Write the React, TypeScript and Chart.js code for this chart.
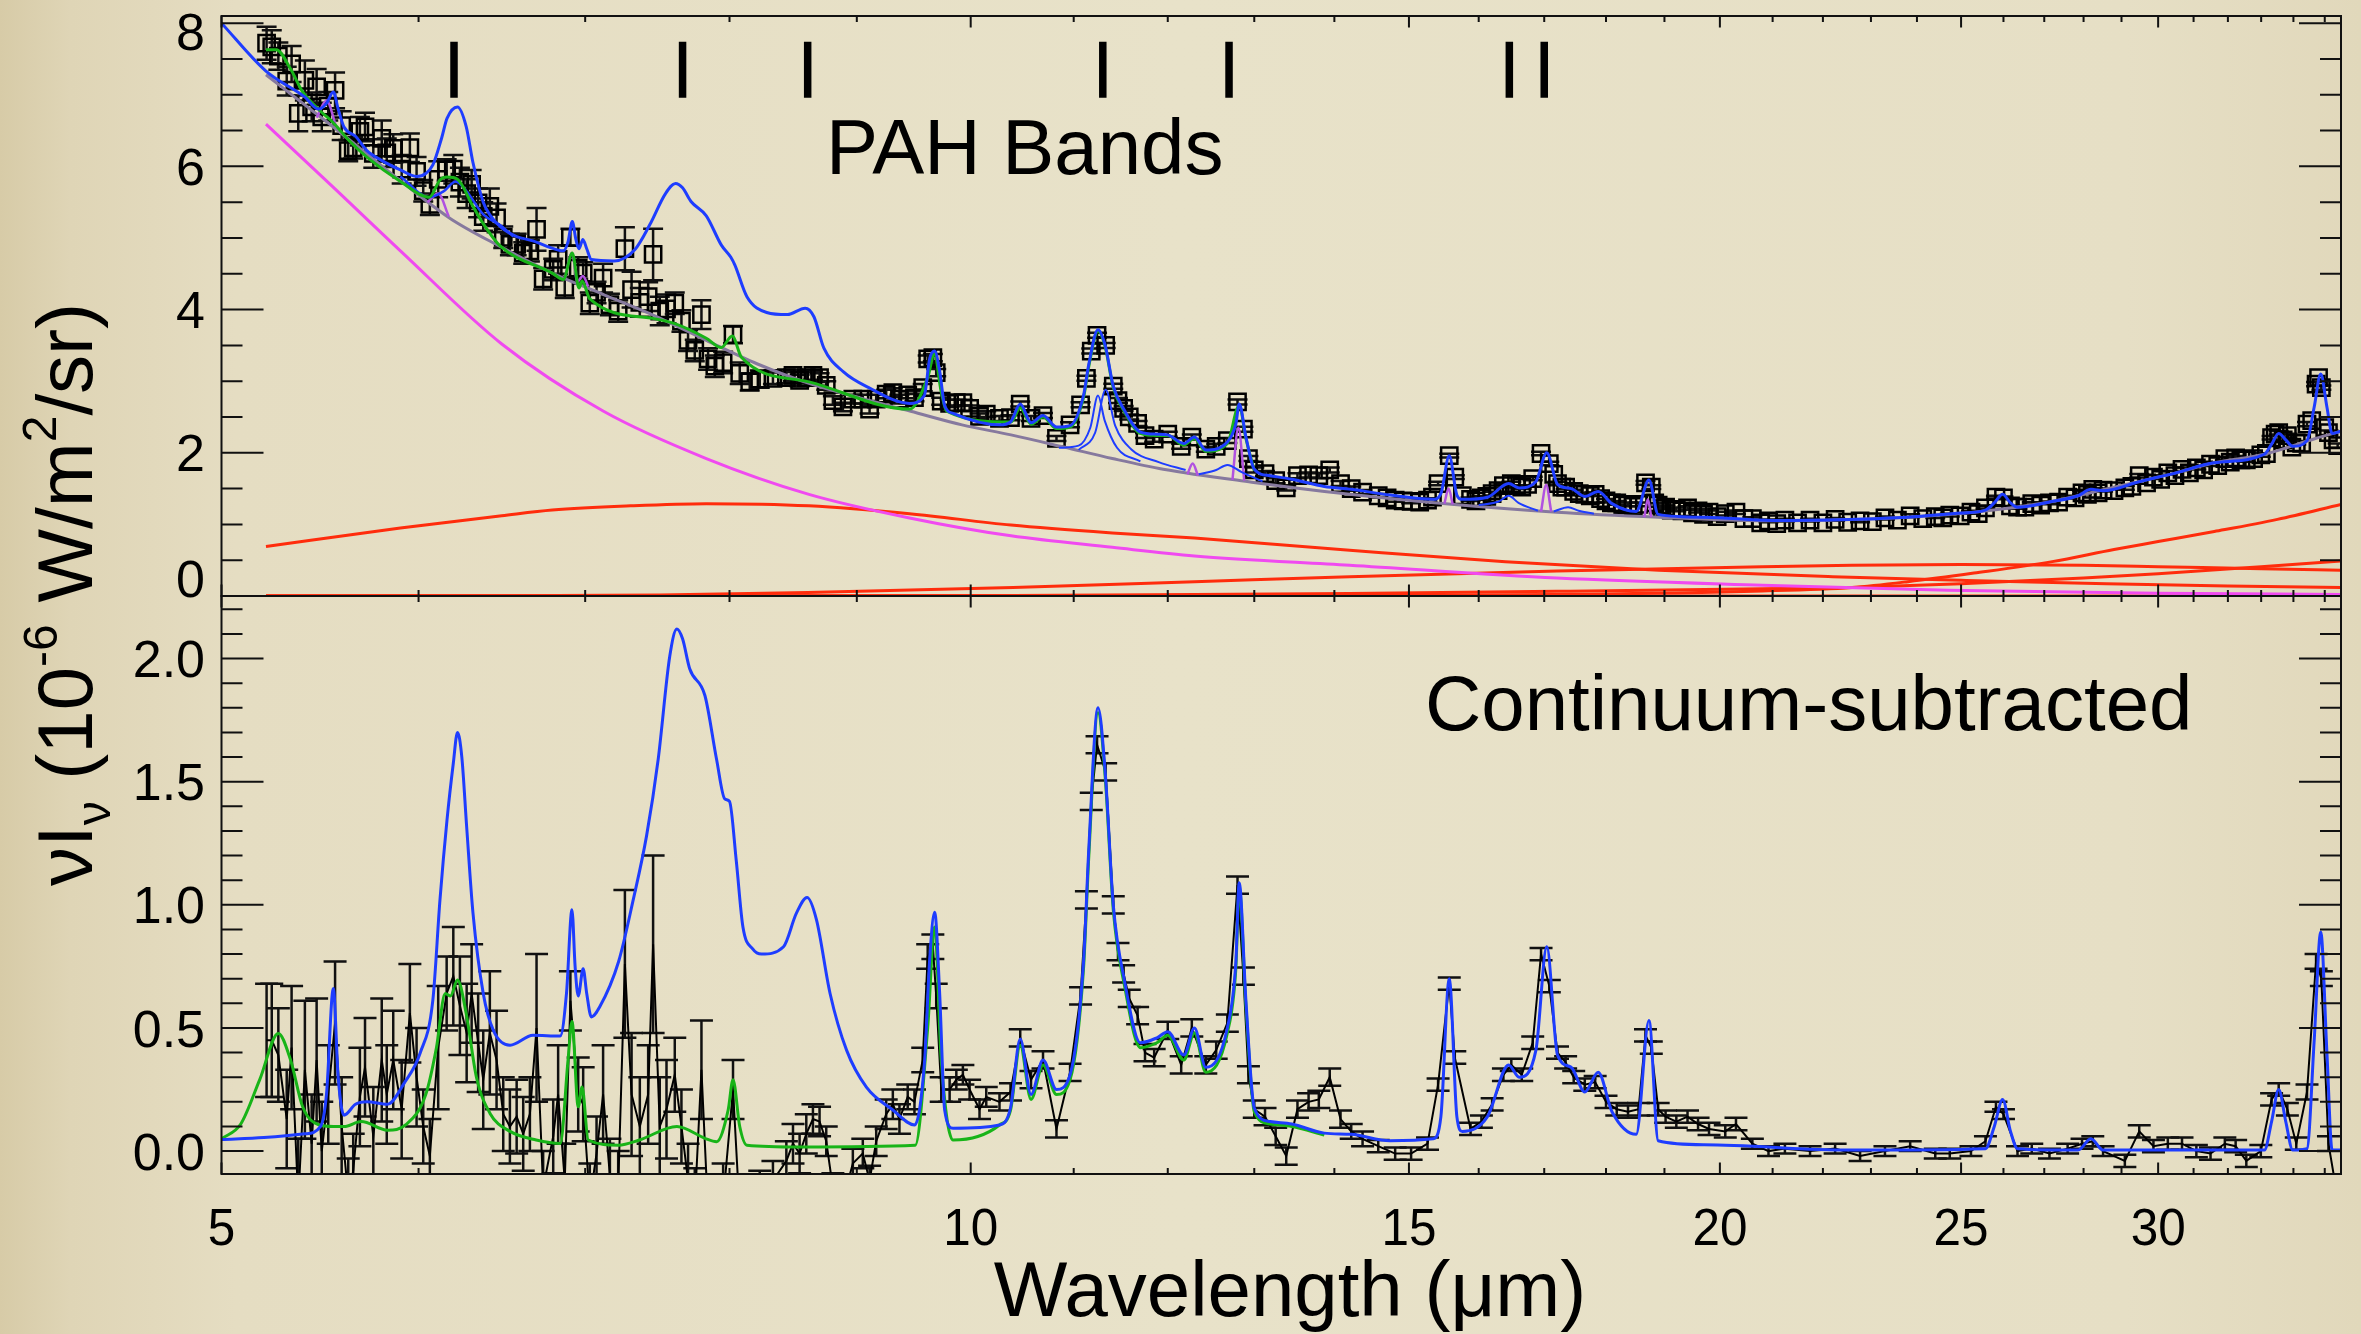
import { useEffect, useRef } from "react";
import { Chart, registerables } from "chart.js";

Chart.register(...registerables);

const W = 2361;
const H = 1334;
const FONT = '"Liberation Sans", Arial, Helvetica, sans-serif';
const INK = "#111111";

// panel geometry (px)
const PLOT_LEFT = 221.5;
const PLOT_RIGHT = 2341;
const TOP_PANEL_TOP = 16;
const PANEL_SPLIT = 596;
const BOTTOM_PANEL_BOTTOM = 1174;

const WAVE_MIN = 5;
const WAVE_MAX = 35.53;
const TOTAL_MIN = 0;
const TOTAL_MAX = 8.1;
const SUB_MIN = -0.093;
const SUB_MAX = 2.254;

// axis ticks
const X_MAJOR_TICKS = [5, 10, 15, 20, 25, 30];
const X_TICK_LABELS = ["5", "10", "15", "20", "25", "30"];
const X_MINOR_TICKS = [6, 7, 8, 9, 11, 12, 13, 14, 16, 17, 18, 19, 21, 22, 23, 24, 26, 27, 28, 29, 31, 32, 33, 34, 35];
const TOTAL_MAJOR_TICKS = [0, 2, 4, 6, 8];
const TOTAL_TICK_LABELS = ["0", "2", "4", "6", "8"];
const TOTAL_LABEL_SHIFT = [-18, 0, 0, 0, 8];
const SUB_MAJOR_TICKS = [0, 0.5, 1, 1.5, 2];
const SUB_TICK_LABELS = ["0.0", "0.5", "1.0", "1.5", "2.0"];
const SUB_LABEL_SHIFT = [0, 0, 0, 0, 0];

// PAH band markers (micron)
const PAH_BANDS = [6.2, 7.66, 8.6, 11.3, 12.7, 16.46, 17.0];
const BAND_MARK_LOW = 6.96;
const BAND_MARK_HIGH = 7.74;

// measured spectrum
const WAVE = [
  5.213, 5.238, 5.27, 5.311, 5.335, 5.368, 5.401, 5.435, 5.46, 5.486,
  5.519, 5.554, 5.588, 5.622, 5.648, 5.683, 5.71, 5.754, 5.799, 5.826,
  5.861, 5.907, 5.952, 5.989, 6.026, 6.063, 6.11, 6.158, 6.196, 6.234,
  6.273, 6.302, 6.34, 6.37, 6.409, 6.449, 6.489, 6.529, 6.57, 6.61,
  6.651, 6.692, 6.733, 6.796, 6.827, 6.869, 6.905, 6.955, 6.987, 7.03,
  7.074, 7.117, 7.162, 7.217, 7.262, 7.307, 7.363, 7.42, 7.454, 7.5,
  7.547, 7.605, 7.652, 7.699, 7.747, 7.795, 7.843, 7.892, 7.953, 8.026,
  8.076, 8.151, 8.227, 8.328, 8.432, 8.484, 8.536, 8.589, 8.642, 8.695,
  8.749, 8.803, 8.885, 8.967, 9.05, 9.107, 9.163, 9.248, 9.305, 9.362,
  9.434, 9.493, 9.566, 9.61, 9.656, 9.686, 9.731, 9.807, 9.868, 9.928,
  9.99, 10.082, 10.145, 10.27, 10.375, 10.469, 10.574, 10.692, 10.826, 10.963,
  11.07, 11.13, 11.18, 11.24, 11.33, 11.41, 11.46, 11.52, 11.58, 11.67,
  11.75, 11.85, 12.0, 12.15, 12.27, 12.43, 12.55, 12.68, 12.8, 12.87,
  12.93, 13.0, 13.13, 13.26, 13.39, 13.53, 13.67, 13.8, 13.94, 14.08,
  14.22, 14.37, 14.58, 14.81, 15.03, 15.26, 15.41, 15.57, 15.65, 15.88,
  16.04, 16.2, 16.37, 16.49, 16.65, 16.82, 16.95, 17.08, 17.21, 17.34,
  17.47, 17.65, 17.82, 18.0, 18.18, 18.37, 18.55, 18.67, 18.77, 18.89,
  19.02, 19.21, 19.41, 19.6, 19.8, 20.1, 20.3, 20.61, 20.92, 21.24,
  21.74, 22.25, 22.77, 23.3, 23.85, 24.41, 24.74, 25.23, 25.57, 25.82,
  26.0, 26.34, 26.69, 27.13, 27.59, 27.96, 28.24, 28.51, 29.09, 29.48,
  29.87, 30.27, 30.67, 31.08, 31.49, 31.91, 32.23, 32.55, 32.99, 33.32,
  33.54, 33.81, 34.09, 34.43, 34.72, 34.89, 35.12, 35.42,
];

const FLUX_TOTAL = [
  7.72, 7.67, 7.54, 7.19, 7.43, 6.74, 7.2, 6.83, 7.11, 6.69,
  6.84, 7.06, 6.57, 6.22, 6.26, 6.49, 6.55, 6.18, 6.39, 6.19,
  6.25, 5.96, 6.26, 5.93, 5.66, 5.47, 5.82, 5.95, 5.96, 5.78,
  5.62, 5.75, 5.49, 5.3, 5.44, 5.28, 5.01, 4.91, 4.91, 4.79,
  4.82, 5.12, 4.43, 4.56, 4.7, 4.31, 5.01, 4.58, 4.51, 4.09,
  4.24, 4.44, 4.07, 3.98, 4.85, 4.28, 4.1, 4.18, 4.77, 3.98,
  4.01, 4.09, 3.84, 3.57, 3.43, 3.93, 3.31, 3.21, 3.26, 3.65,
  3.11, 2.99, 3.03, 3.04, 3.05, 3.08, 3.01, 3.05, 3.08, 3.05,
  2.94, 2.73, 2.64, 2.75, 2.75, 2.61, 2.75, 2.82, 2.84, 2.75,
  2.81, 2.77, 2.91, 3.31, 3.33, 3.12, 2.72, 2.69, 2.7, 2.7,
  2.62, 2.51, 2.54, 2.48, 2.49, 2.68, 2.48, 2.52, 2.2, 2.39,
  2.67, 3.04, 3.42, 3.64, 3.5, 2.93, 2.73, 2.62, 2.5, 2.41,
  2.24, 2.19, 2.26, 2.09, 2.22, 2.05, 2.09, 2.17, 2.71, 2.33,
  1.92, 1.76, 1.71, 1.61, 1.51, 1.68, 1.69, 1.68, 1.76, 1.57,
  1.5, 1.45, 1.4, 1.34, 1.32, 1.34, 1.57, 1.96, 1.66, 1.35,
  1.37, 1.43, 1.54, 1.57, 1.52, 1.64, 1.99, 1.85, 1.57, 1.52,
  1.46, 1.42, 1.42, 1.33, 1.3, 1.28, 1.28, 1.58, 1.52, 1.27,
  1.24, 1.21, 1.23, 1.19, 1.17, 1.15, 1.17, 1.08, 1.05, 1.06,
  1.06, 1.07, 1.05, 1.09, 1.12, 1.11, 1.13, 1.17, 1.23, 1.38,
  1.37, 1.24, 1.29, 1.3, 1.38, 1.44, 1.49, 1.48, 1.51, 1.68,
  1.66, 1.72, 1.77, 1.79, 1.84, 1.92, 1.93, 1.9, 1.97, 2.21,
  2.28, 2.24, 2.14, 2.4, 2.96, 2.91, 2.28, 2.1,
];

const FLUX_SUB = [
  0.45, 0.45, 0.39, 0.13, 0.42, -0.2, 0.33, 0.03, 0.37, 0.0,
  0.23, 0.52, 0.1, -0.18, -0.08, 0.22, 0.34, 0.06, 0.37, 0.23,
  0.37, 0.17, 0.56, 0.3, 0.1, -0.02, 0.42, 0.64, 0.71, 0.59,
  0.48, 0.64, 0.44, 0.29, 0.48, 0.37, 0.15, 0.1, 0.14, 0.07,
  0.15, 0.5, -0.15, 0.06, 0.23, -0.12, 0.61, 0.23, 0.19, -0.2,
  -0.01, 0.23, -0.1, -0.15, 0.76, 0.23, 0.1, 0.23, 0.84, 0.1,
  0.17, 0.31, 0.1, -0.12, -0.22, 0.33, -0.25, -0.3, -0.2, 0.25,
  -0.25, -0.3, -0.2, -0.12, -0.04, 0.03, -0.01, 0.07, 0.13, 0.12,
  0.04, -0.15, -0.2, -0.05, -0.01, -0.12, 0.04, 0.15, 0.19, 0.13,
  0.22, 0.2, 0.37, 0.79, 0.83, 0.63, 0.25, 0.25, 0.29, 0.31,
  0.25, 0.17, 0.22, 0.2, 0.24, 0.46, 0.29, 0.37, 0.09, 0.32,
  0.63, 1.02, 1.42, 1.65, 1.54, 1.0, 0.81, 0.72, 0.62, 0.55,
  0.4, 0.38, 0.49, 0.35, 0.5, 0.35, 0.41, 0.52, 1.08, 0.71,
  0.31, 0.17, 0.14, 0.06, -0.02, 0.17, 0.2, 0.21, 0.3, 0.13,
  0.08, 0.05, 0.02, -0.01, -0.01, 0.03, 0.27, 0.68, 0.38, 0.09,
  0.12, 0.19, 0.31, 0.35, 0.31, 0.44, 0.8, 0.67, 0.4, 0.36,
  0.3, 0.27, 0.28, 0.2, 0.17, 0.16, 0.17, 0.47, 0.42, 0.17,
  0.14, 0.12, 0.14, 0.11, 0.09, 0.08, 0.11, 0.03, 0.0, 0.01,
  0.0, 0.01, -0.02, 0.0, 0.02, -0.01, -0.01, 0.0, 0.04, 0.18,
  0.15, 0.0, 0.01, -0.01, 0.01, 0.03, 0.04, 0.0, -0.04, 0.08,
  0.02, 0.03, 0.03, 0.0, -0.01, 0.03, 0.02, -0.04, 0.0, 0.21,
  0.25, 0.17, 0.03, 0.24, 0.77, 0.7, 0.03, -0.19,
];

const FLUX_ERR = [
  0.23, 0.23, 0.19, 0.2, 0.25, 0.25, 0.28, 0.2, 0.25, 0.2,
  0.2, 0.25, 0.2, 0.15, 0.15, 0.2, 0.2, 0.2, 0.25, 0.2,
  0.2, 0.2, 0.2, 0.2, 0.15, 0.15, 0.25, 0.15, 0.2, 0.2,
  0.2, 0.2, 0.2, 0.2, 0.25, 0.2, 0.15, 0.15, 0.15, 0.15,
  0.15, 0.3, 0.15, 0.15, 0.2, 0.15, 0.12, 0.15, 0.15, 0.15,
  0.15, 0.2, 0.15, 0.15, 0.3, 0.25, 0.2, 0.2, 0.36, 0.2,
  0.2, 0.15, 0.15, 0.15, 0.15, 0.2, 0.15, 0.15, 0.15, 0.12,
  0.15, 0.12, 0.12, 0.08, 0.08, 0.08, 0.08, 0.08, 0.06, 0.06,
  0.06, 0.06, 0.06, 0.06, 0.06, 0.06, 0.06, 0.06, 0.06, 0.06,
  0.05, 0.05, 0.05, 0.05, 0.05, 0.05, 0.05, 0.05, 0.04, 0.04,
  0.04, 0.04, 0.04, 0.035, 0.035, 0.035, 0.035, 0.035, 0.035, 0.035,
  0.035, 0.035, 0.035, 0.035, 0.035, 0.035, 0.035, 0.035, 0.035, 0.035,
  0.035, 0.035, 0.035, 0.035, 0.035, 0.035, 0.035, 0.035, 0.035, 0.035,
  0.035, 0.035, 0.035, 0.035, 0.035, 0.035, 0.035, 0.035, 0.035, 0.035,
  0.03, 0.03, 0.025, 0.025, 0.025, 0.025, 0.025, 0.025, 0.025, 0.025,
  0.025, 0.025, 0.025, 0.025, 0.025, 0.025, 0.025, 0.025, 0.025, 0.025,
  0.025, 0.025, 0.025, 0.025, 0.025, 0.025, 0.025, 0.025, 0.025, 0.025,
  0.025, 0.025, 0.025, 0.025, 0.025, 0.025, 0.025, 0.02, 0.02, 0.02,
  0.02, 0.02, 0.02, 0.02, 0.02, 0.02, 0.02, 0.02, 0.02, 0.02,
  0.02, 0.02, 0.02, 0.02, 0.02, 0.02, 0.02, 0.02, 0.025, 0.025,
  0.025, 0.025, 0.025, 0.025, 0.025, 0.025, 0.025, 0.025, 0.025, 0.025,
  0.025, 0.025, 0.025, 0.03, 0.03, 0.03, 0.03, 0.03,
];

// second pass of the long-wavelength module (upper panel only)
const LL2_WAVE = [
  14.7, 14.92, 15.15, 15.33, 15.76, 15.96, 16.12, 16.29, 16.57, 16.74,
  17.15, 17.28, 17.56, 17.74, 17.91, 18.09, 18.28, 18.46, 18.83, 18.96,
  19.12, 19.31, 19.5, 19.7, 19.95, 20.45, 20.77, 21.08, 21.49, 22.0,
  22.51, 23.03, 23.57, 24.13, 24.58, 24.98, 25.4, 26.17, 26.52, 26.91,
  27.36, 27.78, 28.1, 28.38, 28.8, 29.28, 29.68, 30.07, 30.47, 30.88,
  31.29, 31.7, 32.07, 32.39, 32.77, 33.16, 33.43, 33.68, 33.95, 34.26,
  34.58, 34.8, 35.0, 35.27,
];
const LL2_FLUX = [
  1.37, 1.33, 1.31, 1.38, 1.4, 1.33, 1.39, 1.47, 1.55, 1.56,
  1.7, 1.52, 1.43, 1.4, 1.36, 1.3, 1.27, 1.25, 1.3, 1.22,
  1.2, 1.19, 1.16, 1.14, 1.11, 1.08, 1.02, 1.01, 1.02, 1.02,
  1.03, 1.04, 1.06, 1.08, 1.09, 1.12, 1.15, 1.26, 1.24, 1.27,
  1.31, 1.37, 1.42, 1.44, 1.47, 1.53, 1.58, 1.63, 1.68, 1.72,
  1.76, 1.82, 1.87, 1.9, 1.92, 1.99, 2.26, 2.18, 2.08, 2.13,
  2.45, 3.05, 2.35, 2.18,
];

// full model (continuum + features), upper panel
const MODEL_WAVE = [
  5.0, 5.21, 5.4, 5.47, 5.51, 5.545, 5.57, 5.6, 5.66, 5.72,
  5.8, 5.9, 5.99, 6.04, 6.08, 6.13, 6.16, 6.22, 6.27, 6.31,
  6.37, 6.41, 6.48, 6.57, 6.67, 6.76, 6.86, 6.89, 6.917, 6.94,
  6.96, 6.985, 7.01, 7.04, 7.19, 7.33, 7.43, 7.54, 7.61, 7.66,
  7.72, 7.83, 7.94, 8.01, 8.04, 8.13, 8.28, 8.44, 8.58, 8.65,
  8.73, 8.89, 9.1, 9.45, 9.58, 9.627, 9.672, 9.717, 9.762, 9.838,
  10.27, 10.375, 10.469, 10.574, 10.692, 10.826, 10.963, 11.1, 11.155, 11.25,
  11.325, 11.41, 11.53, 11.7, 11.88, 12.0, 12.18, 12.3, 12.43, 12.68,
  12.78, 12.82, 12.9, 13.0, 13.19, 13.46, 13.87, 14.22, 14.74, 15.34,
  15.45, 15.57, 15.68, 15.76, 16.13, 16.45, 16.61, 16.87, 17.04, 17.21,
  17.43, 17.65, 17.87, 18.1, 18.51, 18.73, 18.89, 19.71, 21.0, 22.54,
  23.8, 25.0, 25.57, 25.78, 25.98, 26.17, 26.34, 27.1, 27.86, 28.19,
  28.51, 29.5, 30.5, 31.6, 33.1, 33.32, 33.54, 33.76, 33.98, 34.43,
  34.66, 34.87, 35.07, 35.24, 35.53,
];
const MODEL_FLUX = [
  8.0, 7.33, 6.97, 6.8, 6.88, 7.04, 6.8, 6.55, 6.42, 6.22,
  6.08, 5.95, 5.86, 5.9, 6.02, 6.4, 6.67, 6.83, 6.56, 6.05,
  5.5, 5.32, 5.14, 5.02, 4.96, 4.88, 4.82, 4.95, 5.23, 4.98,
  4.85, 4.98, 4.85, 4.7, 4.68, 4.84, 5.18, 5.62, 5.76, 5.7,
  5.51, 5.31, 4.9, 4.73, 4.62, 4.18, 3.96, 3.93, 4.02, 3.9,
  3.46, 3.13, 2.91, 2.69, 2.8, 3.31, 3.42, 3.14, 2.66, 2.55,
  2.39, 2.43, 2.68, 2.42, 2.52, 2.36, 2.38, 2.8, 3.24, 3.72,
  3.5, 2.93, 2.59, 2.29, 2.26, 2.25, 2.13, 2.22, 2.04, 2.15,
  2.4, 2.68, 2.22, 1.77, 1.68, 1.63, 1.53, 1.49, 1.41, 1.35,
  1.43, 1.96, 1.41, 1.35, 1.38, 1.57, 1.51, 1.6, 2.0, 1.56,
  1.5, 1.39, 1.46, 1.29, 1.18, 1.62, 1.14, 1.1, 1.055, 1.07,
  1.1, 1.16, 1.2, 1.3, 1.42, 1.3, 1.24, 1.31, 1.4, 1.49,
  1.47, 1.6, 1.72, 1.86, 1.98, 2.12, 2.27, 2.18, 2.09, 2.17,
  2.64, 3.1, 2.64, 2.27, 2.3,
];

// second model, upper panel
const GREEN_WAVE = [
  5.21, 5.26, 5.33, 5.39, 5.48, 5.545, 5.63, 5.72, 5.9, 6.06,
  6.12, 6.16, 6.22, 6.31, 6.37, 6.47, 6.79, 6.86, 6.917, 6.96,
  6.98, 7.03, 7.47, 7.61, 7.83, 7.94, 8.02, 8.09, 8.61, 9.45,
  9.61, 9.67, 9.73, 9.78, 10.38, 10.469, 10.574, 10.692, 10.826, 10.963,
  11.1, 11.155, 11.25, 11.325, 11.41, 11.53, 11.7, 11.88, 12.0, 12.18,
  12.3, 12.43, 12.68, 12.82, 12.9, 13.0,
];
const GREEN_FLUX = [
  7.63, 7.63, 7.36, 7.04, 6.77, 6.61, 6.35, 6.13, 5.79, 5.57,
  5.81, 5.85, 5.82, 5.44, 5.2, 4.89, 4.51, 4.42, 4.79, 4.3,
  4.4, 4.15, 3.87, 3.8, 3.6, 3.47, 3.63, 3.33, 2.99, 2.61,
  3.05, 3.38, 2.86, 2.58, 2.43, 2.63, 2.4, 2.5, 2.34, 2.36,
  2.77, 3.21, 3.7, 3.48, 2.91, 2.57, 2.27, 2.24, 2.24, 2.11,
  2.2, 2.02, 2.13, 2.66, 2.2, 1.75,
];

// fitted curve where it separates from the full model
const FIT_WAVE = [5.9, 6.06, 6.14, 6.21, 6.27, 6.37, 6.47, 6.55];
const FIT_FLUX = [5.86, 5.57, 5.65, 5.79, 5.66, 5.33, 5.18, 5.02];

// individual dust features (gaps separate features)
const FEATURE_WAVE = [
  10.85, 11.05, 11.17, 11.25, 11.32, 11.45, 11.7, 11.72,
  11.05, 11.22, 11.33, 11.43, 11.6, 11.9, 12.2, 12.25,
  12.35, 12.55, 12.68, 12.85, 13.1, 13.5,
  16.0, 16.3, 16.45, 16.6, 16.9, 17.0,
  17.15, 17.38, 17.55, 17.8,
];
const FEATURE_FLUX = [
  2.07, 2.1, 2.35, 2.8, 2.45, 2.07, 1.88, null,
  2.04, 2.28, 2.88, 2.38, 2.05, 1.87, 1.76, null,
  1.7, 1.76, 1.83, 1.73, 1.6, null,
  1.27, 1.32, 1.4, 1.3, 1.19, null,
  1.18, 1.24, 1.19, 1.15,
];

// unresolved lines (gaps separate lines)
const LINE_WAVE = [
  5.46, 5.51, 5.56, 5.7,
  6.05, 6.11, 6.17, 6.5,
  6.87, 6.915, 6.95, 6.985, 7.02, 7.5,
  12.22, 12.28, 12.34, 12.5,
  12.74, 12.81, 12.88, 13.2,
  15.5, 15.56, 15.62, 16.0,
  16.95, 17.03, 17.11, 17.5,
  18.65, 18.71, 18.77,
];
const LINE_FLUX = [
  6.68, 6.92, 6.55, null,
  5.5, 5.62, 5.3, null,
  4.44, 4.79, 4.39, 4.47, 4.32, null,
  1.7, 1.85, 1.68, null,
  1.62, 2.35, 1.61, null,
  1.29, 1.5, 1.28, null,
  1.18, 1.55, 1.18, null,
  1.1, 1.35, 1.1,
];

// continuum and its components
const CONT_WAVE = [
  5.21, 5.54, 5.9, 6.18, 6.48, 6.79, 7.12, 7.47, 7.83, 8.21,
  8.61, 9.02, 9.46, 9.92, 10.38, 10.9, 11.4, 11.95, 12.97, 14.2,
  15.6, 17.2, 18.9, 20.8, 22.6, 23.8, 25.3, 27.1, 28.8, 30.5,
  31.6, 33.1, 34.7, 35.53,
];
const CONT_FLUX = [
  7.28, 6.56, 5.8, 5.27, 4.87, 4.51, 4.21, 3.91, 3.57, 3.24,
  2.97, 2.77, 2.58, 2.39, 2.25, 2.08, 1.92, 1.77, 1.59, 1.42,
  1.28, 1.17, 1.1, 1.05, 1.07, 1.1, 1.17, 1.31, 1.52, 1.72,
  1.86, 1.98, 2.2, 2.3,
];
const STAR_WAVE = [5.21, 5.54, 5.9, 6.48, 7.12, 7.83, 8.61, 9.45, 10.38, 11.4, 12.3, 14.2, 17.2, 20.8, 24.7, 30.0, 35.53];
const STAR_FLUX = [6.59, 5.72, 4.82, 3.52, 2.58, 1.92, 1.42, 1.09, 0.84, 0.68, 0.56, 0.43, 0.25, 0.15, 0.08, 0.04, 0.02];

const WARM_WAVE = [5.21, 5.9, 6.48, 6.79, 7.3, 7.83, 8.61, 9.45, 10.38, 11.4, 12.3, 14.2, 16.4, 18.9, 22.2, 25.0, 28.6, 32.0, 35.53];
const WARM_FLUX = [0.69, 0.95, 1.12, 1.2, 1.26, 1.29, 1.26, 1.15, 0.99, 0.88, 0.81, 0.64, 0.48, 0.36, 0.27, 0.22, 0.17, 0.14, 0.12];
const MILD_WAVE = [5.21, 6.5, 7.5, 8.6, 10.4, 12.3, 14.2, 17.2, 20.8, 22.6, 25.0, 28.0, 30.0, 33.0, 35.53];
const MILD_FLUX = [0.0, 0.003, 0.015, 0.05, 0.12, 0.2, 0.27, 0.35, 0.41, 0.43, 0.44, 0.43, 0.41, 0.38, 0.36];
const COOL_WAVE = [5.21, 8.0, 10.4, 12.3, 14.2, 17.2, 20.8, 22.6, 25.0, 28.0, 30.0, 33.0, 35.53];
const COOL_FLUX = [0.0, 0.0, 0.008, 0.02, 0.035, 0.065, 0.1, 0.12, 0.17, 0.25, 0.31, 0.41, 0.49];
const COLD_WAVE = [5.21, 10.0, 14.2, 17.2, 20.8, 22.6, 23.8, 25.3, 27.2, 28.8, 30.0, 31.6, 33.5, 35.53];
const COLD_FLUX = [0.0, 0.0, 0.005, 0.02, 0.07, 0.12, 0.2, 0.32, 0.48, 0.65, 0.76, 0.9, 1.07, 1.28];
const HOT_WAVE = [5.21, 35.53];
const HOT_FLUX = [0.0, 0.0];

// continuum-subtracted models, lower panel
const SUB_MODEL_WAVE = [
  5.0, 5.2, 5.4, 5.48, 5.51, 5.545, 5.57, 5.6, 5.66, 5.72,
  5.83, 5.92, 6.01, 6.08, 6.12, 6.16, 6.196, 6.22, 6.245, 6.273,
  6.31, 6.37, 6.43, 6.53, 6.67, 6.84, 6.88, 6.915, 6.935, 6.955,
  6.987, 7.01, 7.04, 7.095, 7.22, 7.318, 7.409, 7.489, 7.57, 7.62,
  7.66, 7.71, 7.82, 7.905, 7.965, 8.0, 8.05, 8.1, 8.175, 8.24,
  8.41, 8.51, 8.595, 8.67, 8.78, 8.915, 9.08, 9.305, 9.494, 9.583,
  9.627, 9.672, 9.717, 9.762, 9.838, 10.27, 10.375, 10.469, 10.574, 10.692,
  10.826, 10.963, 11.1, 11.155, 11.25, 11.325, 11.41, 11.53, 11.7, 11.88,
  12.0, 12.18, 12.3, 12.43, 12.68, 12.78, 12.82, 12.9, 13.0, 13.19,
  13.46, 13.87, 14.22, 14.74, 15.34, 15.45, 15.57, 15.68, 15.76, 16.13,
  16.45, 16.61, 16.87, 17.04, 17.21, 17.43, 17.65, 17.87, 18.1, 18.51,
  18.73, 18.89, 19.71, 22.54, 25.57, 25.78, 25.98, 26.17, 26.34, 27.86,
  28.19, 28.51, 33.1, 33.32, 33.54, 33.76, 33.98, 34.43, 34.66, 34.87,
  35.07, 35.24, 35.53,
];
const SUB_MODEL_FLUX = [
  0.047, 0.055, 0.07, 0.1, 0.23, 0.66, 0.3, 0.146, 0.19, 0.2,
  0.19, 0.275, 0.4, 0.614, 1.02, 1.345, 1.575, 1.7, 1.6, 1.317,
  0.965, 0.64, 0.49, 0.43, 0.47, 0.467, 0.64, 0.98, 0.75, 0.63,
  0.74, 0.64, 0.545, 0.586, 0.77, 1.02, 1.28, 1.59, 2.01, 2.12,
  2.08, 1.96, 1.85, 1.59, 1.43, 1.42, 1.18, 0.91, 0.82, 0.8,
  0.83, 0.965, 1.03, 0.94, 0.64, 0.41, 0.26, 0.167, 0.106, 0.37,
  0.775, 0.97, 0.64, 0.167, 0.093, 0.106, 0.175, 0.455, 0.23, 0.37,
  0.25, 0.31, 0.765, 1.23, 1.8, 1.54, 1.0, 0.69, 0.44, 0.46,
  0.485, 0.39, 0.5, 0.34, 0.5, 0.765, 1.09, 0.61, 0.175, 0.12,
  0.11, 0.073, 0.068, 0.042, 0.05, 0.14, 0.7, 0.14, 0.08, 0.14,
  0.35, 0.3, 0.41, 0.83, 0.39, 0.34, 0.24, 0.32, 0.16, 0.068,
  0.53, 0.042, 0.026, 0.004, 0.01, 0.1, 0.21, 0.08, 0.01, 0.004,
  0.05, 0.004, 0.004, 0.12, 0.25, 0.12, 0.004, 0.01, 0.45, 0.89,
  0.4, 0.004, 0.004,
];

const SUB_GREEN_WAVE = [
  5.0, 5.09, 5.18, 5.27, 5.33, 5.39, 5.47, 5.545, 5.6, 5.69,
  5.83, 5.93, 6.04, 6.1, 6.15, 6.18, 6.22, 6.27, 6.33, 6.41,
  6.53, 6.69, 6.84, 6.89, 6.915, 6.955, 6.98, 7.02, 7.22, 7.36,
  7.62, 7.82, 7.905, 7.99, 8.026, 8.076, 8.13, 8.536, 9.5, 9.61,
  9.672, 9.731, 9.838, 10.27, 10.375, 10.469, 10.574, 10.692, 10.826, 10.963,
  11.1, 11.155, 11.25, 11.325, 11.41, 11.53, 11.7, 11.88, 12.0, 12.18,
  12.3, 12.43, 12.68, 12.78, 12.82, 12.9, 13.0, 13.19, 13.46, 13.87,
];
const SUB_GREEN_FLUX = [
  0.05, 0.11, 0.29, 0.478, 0.37, 0.18, 0.107, 0.1, 0.1, 0.12,
  0.085, 0.107, 0.23, 0.42, 0.64, 0.63, 0.695, 0.56, 0.3, 0.153,
  0.08, 0.045, 0.031, 0.37, 0.526, 0.18, 0.26, 0.045, 0.024, 0.045,
  0.1, 0.052, 0.038, 0.167, 0.29, 0.1, 0.024, 0.017, 0.024, 0.5,
  0.91, 0.37, 0.045, 0.106, 0.165, 0.43, 0.21, 0.35, 0.23, 0.29,
  0.74, 1.2, 1.78, 1.52, 0.98, 0.67, 0.42, 0.44, 0.47, 0.37,
  0.48, 0.32, 0.48, 0.74, 1.07, 0.59, 0.16, 0.11, 0.1, 0.065,
];

const BLUE = "#1e3dff";
const GREEN = "#18b418";
const MAGENTA = "#f04af0";
const RED = "#ff2c0c";
const GREY = "#86799e";
const VIOLET = "#b152e0";

const BACKGROUND =
  "linear-gradient(90deg, #d7cba7 0%, #dfd5b6 3%, #e5ddc2 10%, #e8e2c9 50%, #e6dfc5 90%, #e1d8bb 100%)";

function pairs(xs: number[], ys: (number | null)[]) {
  return xs.map((x, i) => ({ x, y: ys[i] }));
}

function curve(label: string, xs: number[], ys: (number | null)[], color: string, width: number, order: number) {
  return {
    type: "line",
    label,
    data: pairs(xs, ys),
    borderColor: color,
    backgroundColor: color,
    borderWidth: width,
    pointRadius: 0,
    fill: false,
    cubicInterpolationMode: "monotone",
    spanGaps: false,
    order,
  };
}

function squares(label: string, xs: number[], ys: number[], errors: number[] | null, order: number) {
  return {
    type: "line",
    label,
    data: pairs(xs, ys),
    showLine: false,
    pointStyle: "rect",
    pointRadius: 11.5,
    pointBorderWidth: 2.5,
    pointBorderColor: "#000",
    pointBackgroundColor: "rgba(0,0,0,0)",
    errorBars: errors,
    errorCap: 10,
    errorLineWidth: 2.5,
    order,
  };
}

function bandMarks() {
  const pts: { x: number; y: number | null }[] = [];
  PAH_BANDS.forEach((b) => {
    pts.push({ x: b, y: BAND_MARK_LOW });
    pts.push({ x: b, y: BAND_MARK_HIGH });
    pts.push({ x: b, y: null });
  });
  return {
    type: "line",
    label: "PAH bands",
    data: pts,
    borderColor: "#000",
    borderWidth: 7.5,
    borderCapStyle: "butt",
    pointRadius: 0,
    spanGaps: false,
    tension: 0,
    order: 0,
  };
}

function drawErrorBars(chart: any) {
  const { ctx, chartArea: a } = chart;
  chart.data.datasets.forEach((ds: any, i: number) => {
    if (!ds.errorBars) return;
    const meta = chart.getDatasetMeta(i);
    const xs = chart.scales[meta.xAxisID];
    const ys = chart.scales[meta.yAxisID];
    ctx.save();
    ctx.beginPath();
    ctx.rect(a.left, a.top, a.right - a.left, a.bottom - a.top);
    ctx.clip();
    ctx.strokeStyle = INK;
    ctx.lineWidth = ds.errorLineWidth;
    const c = ds.errorCap;
    ds.data.forEach((p: any, j: number) => {
      const e = ds.errorBars[j];
      const px = xs.getPixelForValue(p.x);
      const y1 = ys.getPixelForValue(p.y + e);
      const y2 = ys.getPixelForValue(p.y - e);
      ctx.beginPath();
      ctx.moveTo(px, y1);
      ctx.lineTo(px, y2);
      ctx.moveTo(px - c, y1);
      ctx.lineTo(px + c, y1);
      ctx.moveTo(px - c, y2);
      ctx.lineTo(px + c, y2);
      ctx.stroke();
    });
    ctx.restore();
  });
}

function drawFrame(chart: any, yMajor: number[], yLabels: string[], yShift: number[], yStep: number) {
  const { ctx, chartArea: a, scales } = chart;
  const xs = scales.x;
  const ys = scales.y;
  ctx.save();
  ctx.strokeStyle = INK;
  ctx.lineWidth = 2;
  ctx.strokeRect(a.left, a.top, a.right - a.left, a.bottom - a.top);
  ctx.beginPath();
  const xTick = (w: number, len: number) => {
    const px = xs.getPixelForValue(w);
    ctx.moveTo(px, a.bottom);
    ctx.lineTo(px, a.bottom - len);
    ctx.moveTo(px, a.top);
    ctx.lineTo(px, a.top + len);
  };
  X_MAJOR_TICKS.forEach((w) => xTick(w, 11.5));
  X_MINOR_TICKS.forEach((w) => xTick(w, 6));
  const yTick = (v: number, len: number) => {
    const py = ys.getPixelForValue(v);
    ctx.moveTo(a.left, py);
    ctx.lineTo(a.left + len, py);
    ctx.moveTo(a.right, py);
    ctx.lineTo(a.right - len, py);
  };
  const lo = Math.ceil(ys.min / yStep - 1e-6);
  const hi = Math.floor(ys.max / yStep + 1e-6);
  for (let k = lo; k <= hi; k++) {
    const v = k * yStep;
    const major = yMajor.some((m) => Math.abs(m - v) < 1e-6);
    yTick(v, major ? 42 : 21);
  }
  ctx.stroke();
  ctx.fillStyle = "#000";
  ctx.font = `52px ${FONT}`;
  ctx.textAlign = "right";
  ctx.textBaseline = "alphabetic";
  yMajor.forEach((v, i) => {
    ctx.fillText(yLabels[i], 205, ys.getPixelForValue(v) + 18.6 + yShift[i]);
  });
  ctx.restore();
}

function drawYTitle(ctx: CanvasRenderingContext2D) {
  ctx.save();
  ctx.translate(92, 886);
  ctx.rotate(-Math.PI / 2);
  ctx.fillStyle = "#000";
  ctx.textAlign = "left";
  ctx.textBaseline = "alphabetic";
  const big = `78px ${FONT}`;
  const small = `48px ${FONT}`;
  let x = 0;
  const put = (t: string, font: string, dy: number) => {
    ctx.font = font;
    ctx.fillText(t, x, dy);
    x += ctx.measureText(t).width;
  };
  put("\u03BDI", big, 0);
  put("\u03BD", small, 18);
  put(" (10", big, 0);
  put("-6", small, -35);
  put(" W/m", big, 0);
  put("2", small, -36);
  put("/sr)", big, 0);
  ctx.restore();
}

function baseOptions(padTop: number, padBottom: number, yMin: number, yMax: number) {
  return {
    responsive: false,
    animation: false,
    devicePixelRatio: 1,
    events: [],
    layout: { padding: { left: PLOT_LEFT, right: W - PLOT_RIGHT, top: padTop, bottom: padBottom } },
    plugins: { legend: { display: false }, tooltip: { enabled: false }, title: { display: false } },
    scales: {
      x: { type: "logarithmic", min: WAVE_MIN, max: WAVE_MAX, display: false },
      y: { type: "linear", min: yMin, max: yMax, display: false },
    },
  };
}

function totalConfig(): any {
  return {
    type: "line",
    data: {
      datasets: [
        bandMarks(),
        curve("model", MODEL_WAVE, MODEL_FLUX, BLUE, 3, 1),
        curve("model (alt)", GREEN_WAVE, GREEN_FLUX, GREEN, 3, 2),
        curve("fit", FIT_WAVE, FIT_FLUX, BLUE, 2.5, 3),
        curve("features", FEATURE_WAVE, FEATURE_FLUX, BLUE, 2, 4),
        curve("lines", LINE_WAVE, LINE_FLUX, VIOLET, 2.5, 5),
        curve("continuum", CONT_WAVE, CONT_FLUX, GREY, 3, 6),
        curve("stars", STAR_WAVE, STAR_FLUX, MAGENTA, 3, 7),
        curve("dust warm", WARM_WAVE, WARM_FLUX, RED, 3, 8),
        curve("dust mild", MILD_WAVE, MILD_FLUX, RED, 3, 8),
        curve("dust cool", COOL_WAVE, COOL_FLUX, RED, 3, 8),
        curve("dust cold", COLD_WAVE, COLD_FLUX, RED, 3, 8),
        curve("dust hot", HOT_WAVE, HOT_FLUX, RED, 3, 8),
        squares("spectrum", WAVE, FLUX_TOTAL, FLUX_ERR, 20),
        squares("spectrum LL2", LL2_WAVE, LL2_FLUX, null, 21),
      ],
    },
    options: baseOptions(TOP_PANEL_TOP, H - PANEL_SPLIT, TOTAL_MIN, TOTAL_MAX),
    plugins: [
      {
        id: "totalDecor",
        beforeDatasetsDraw(chart: any) {
          drawErrorBars(chart);
        },
        afterDraw(chart: any) {
          drawFrame(chart, TOTAL_MAJOR_TICKS, TOTAL_TICK_LABELS, TOTAL_LABEL_SHIFT, 0.5);
          const ctx = chart.ctx;
          ctx.save();
          ctx.fillStyle = "#000";
          ctx.font = `78px ${FONT}`;
          ctx.textAlign = "left";
          ctx.textBaseline = "alphabetic";
          ctx.fillText("PAH Bands", 826, 174);
          ctx.restore();
          drawYTitle(ctx);
        },
      },
    ],
  };
}

function subConfig(): any {
  const data = {
    type: "line",
    label: "continuum-subtracted spectrum",
    data: pairs(WAVE, FLUX_SUB),
    borderColor: "#000",
    borderWidth: 2,
    pointRadius: 0,
    tension: 0,
    errorBars: FLUX_ERR,
    errorCap: 11.5,
    errorLineWidth: 2.5,
    order: 20,
  };
  return {
    type: "line",
    data: {
      datasets: [
        curve("model", SUB_MODEL_WAVE, SUB_MODEL_FLUX, BLUE, 3, 1),
        curve("model (alt)", SUB_GREEN_WAVE, SUB_GREEN_FLUX, GREEN, 3, 2),
        data,
      ],
    },
    options: baseOptions(PANEL_SPLIT, H - BOTTOM_PANEL_BOTTOM, SUB_MIN, SUB_MAX),
    plugins: [
      {
        id: "subDecor",
        beforeDatasetsDraw(chart: any) {
          drawErrorBars(chart);
        },
        afterDraw(chart: any) {
          drawFrame(chart, SUB_MAJOR_TICKS, SUB_TICK_LABELS, SUB_LABEL_SHIFT, 0.1);
          const ctx = chart.ctx;
          const xs = chart.scales.x;
          ctx.save();
          ctx.fillStyle = "#000";
          ctx.textBaseline = "alphabetic";
          ctx.font = `78px ${FONT}`;
          ctx.textAlign = "left";
          ctx.fillText("Continuum-subtracted", 1425, 730);
          ctx.font = `52px ${FONT}`;
          ctx.textAlign = "center";
          X_MAJOR_TICKS.forEach((w, i) => {
            ctx.save();
            ctx.translate(xs.getPixelForValue(w), 1245);
            ctx.scale(0.95, 1);
            ctx.fillText(X_TICK_LABELS[i], 0, 0);
            ctx.restore();
          });
          ctx.font = `78px ${FONT}`;
          ctx.fillText("Wavelength (\u03BCm)", 1290, 1316);
          ctx.restore();
        },
      },
    ],
  };
}

export default function App() {
  const topRef = useRef<HTMLCanvasElement>(null);
  const bottomRef = useRef<HTMLCanvasElement>(null);

  useEffect(() => {
    const top = new Chart(topRef.current as HTMLCanvasElement, totalConfig());
    const bottom = new Chart(bottomRef.current as HTMLCanvasElement, subConfig());
    return () => {
      top.destroy();
      bottom.destroy();
    };
  }, []);

  const canvasStyle: any = { position: "absolute", left: 0, top: 0, width: W, height: H };
  return (
    <div style={{ position: "fixed", left: 0, top: 0, width: W, height: H, background: BACKGROUND, overflow: "hidden" }}>
      <canvas ref={topRef} width={W} height={H} style={canvasStyle} />
      <canvas ref={bottomRef} width={W} height={H} style={canvasStyle} />
    </div>
  );
}
